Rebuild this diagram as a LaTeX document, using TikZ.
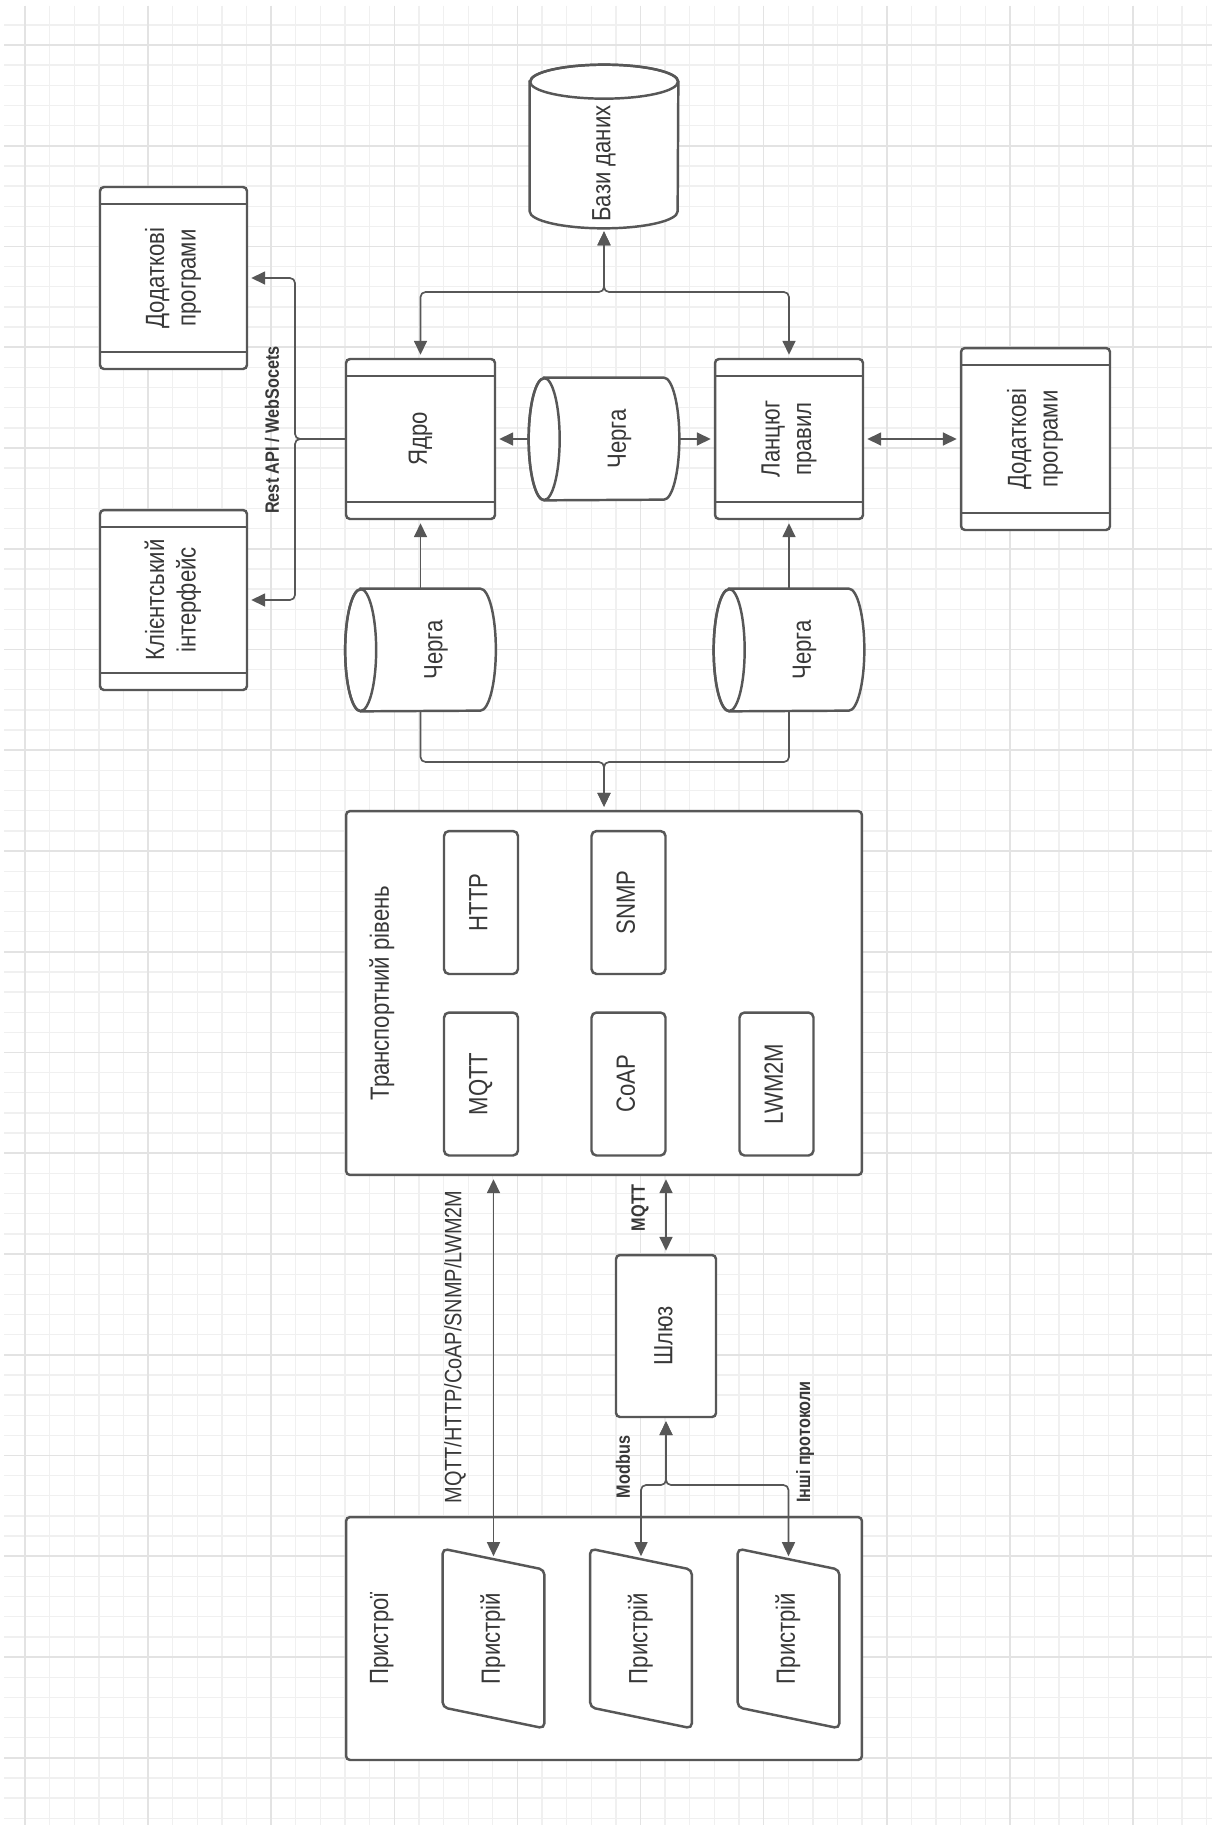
\documentclass[tikz,border=0pt]{standalone}
\usepackage{fontspec}
\setmainfont{Liberation Sans}[FakeStretch=0.84]
\usepackage{graphicx}
\usepackage{xcolor}
\usepackage{tikz}
\usetikzlibrary{arrows.meta, positioning, calc, backgrounds}
\definecolor{ink}      {HTML}{383838}
\definecolor{edge}     {HTML}{575757}
\definecolor{gridminor}{HTML}{F0F0F0}
\definecolor{gridmajor}{HTML}{E3E3E3}

% every label in the sketch reads bottom to top
\newcommand{\rotlbl}[1]{\rotatebox{90}{\begin{tabular}{@{}c@{}}#1\end{tabular}}}
% a drum keeps its text clear of the lid
\newcommand{\drumlbl}[1]{\hspace*{0.62cm}\rotlbl{#1}}

% drum lying on its side, lid on the left (radii 0.31cm x 1.22cm)
\newcommand{\hdrum}[1]{%
  \draw[edge, line width=1.4pt, fill=white]
    ([xshift=0.31cm]#1.north west) -- ([xshift=-0.31cm]#1.north east)
    arc[start angle=90, end angle=-90, x radius=0.31cm, y radius=1.22cm]
    -- ([xshift=0.31cm]#1.south west)
    arc[start angle=270, end angle=90, x radius=0.31cm, y radius=1.22cm] -- cycle;
  \draw[edge, line width=1.4pt] ([xshift=0.31cm]#1.west)
    ellipse[x radius=0.31cm, y radius=1.22cm];}

\begin{document}
\begin{tikzpicture}[
  % one unit is one pixel of the sketch, y running down the page
  x=0.02cm, y=-0.02cm,
  box/.style={
    draw=edge, line width=1.4pt, rounded corners=0.08cm, fill=white,
    text=ink, font=\fontsize{15}{18}\selectfont, inner sep=0pt
  },
  % box with a strip across the top and the bottom
  hbox/.style={box, path picture={
      \draw[edge, line width=1.4pt]
        ([yshift=-0.34cm]path picture bounding box.north west) --
        ([yshift=-0.34cm]path picture bounding box.north east)
        ([yshift=0.34cm]path picture bounding box.south west) --
        ([yshift=0.34cm]path picture bounding box.south east);}},
  drum/.style={text=ink, font=\fontsize{15}{18}\selectfont, inner sep=0pt,
               minimum width=3cm, minimum height=2.44cm},
  proto/.style={box, minimum width=1.48cm, minimum height=2.86cm, rounded corners=0.1cm},
  device/.style={text=ink, font=\fontsize{15}{18}\selectfont, inner sep=0pt,
                 minimum width=2.02cm, minimum height=3.58cm},
  flow/.style={draw=edge, line width=0.95pt, rounded corners=0.1cm, shorten >=0.06cm,
               -{Triangle[length=0.28cm,width=0.26cm]}},
  both/.style={flow, shorten <=0.06cm,
               {Triangle[length=0.28cm,width=0.26cm]}-{Triangle[length=0.28cm,width=0.26cm]}},
  tag/.style={text=ink, font=\fontsize{11}{13}\selectfont\bfseries, rotate=90, inner sep=0pt},
  caption/.style={text=ink, font=\fontsize{15}{18}\selectfont, rotate=90, inner sep=0pt}
]

\useasboundingbox (0,0) rectangle (1212,1825);

% --- grid paper ----------------------------------------------------------------
\begin{scope}[on background layer]
  \fill[white] (0,0) rectangle (1212,1825);
  \foreach \k in {0,...,48}
    \draw[gridminor, line width=0.75pt] ({25+\k*24.62},6) -- ({25+\k*24.62},1825);
  \foreach \k in {-1,...,88}
    \draw[gridminor, line width=0.75pt] (4,{45+\k*20.15}) -- (1212,{45+\k*20.15});
  \foreach \k in {0,5,...,45}
    \draw[gridmajor, line width=0.9pt] ({25+\k*24.62},6) -- ({25+\k*24.62},1825);
  \foreach \k in {0,5,...,85}
    \draw[gridmajor, line width=0.9pt] (4,{45+\k*20.15}) -- (1212,{45+\k*20.15});
\end{scope}

% --- platform ------------------------------------------------------------------
\node[hbox, minimum width=2.94cm, minimum height=3.64cm] (appL)  at (173.5,278) {\rotlbl{Додаткові\\програми}};
\node[hbox, minimum width=2.94cm, minimum height=3.6cm]  (ui)    at (173.5,600) {\rotlbl{Клієнтський\\інтерфейс}};
\node[hbox, minimum width=2.98cm, minimum height=3.2cm]  (core)  at (420.5,439) {\rotlbl{Ядро}};
\node[hbox, minimum width=2.96cm, minimum height=3.2cm]  (rules) at (789,439)   {\rotlbl{Ланцюг\\правил}};
\node[hbox, minimum width=2.98cm, minimum height=3.64cm] (appR)  at (1035.5,439) {\rotlbl{Додаткові\\програми}};

\node[drum] (qmid)   at (604,439)   {\drumlbl{Черга}};
\node[drum] (qcore)  at (420.5,650) {\drumlbl{Черга}};
\node[drum] (qrules) at (789,650)   {\drumlbl{Черга}};
\node[drum, minimum width=2.96cm, minimum height=2.58cm] (db) at (604,163.5) {\rotlbl{Бази даних}};

\begin{scope}[on background layer]
  \hdrum{qmid}
  \hdrum{qcore}
  \hdrum{qrules}
  % standing drum, lid on top
  \draw[edge, line width=1.4pt, fill=white]
    ([yshift=0.34cm]db.north west) -- ([yshift=0.34cm]db.south west)
    arc[start angle=180, end angle=360, x radius=1.48cm, y radius=0.34cm]
    -- ([yshift=0.34cm]db.north east)
    arc[start angle=0, end angle=180, x radius=1.48cm, y radius=0.34cm] -- cycle;
  \draw[edge, line width=1.4pt] ([yshift=0.34cm]db.north)
    ellipse[x radius=1.48cm, y radius=0.34cm];
\end{scope}

% --- transport layer -----------------------------------------------------------
\node[box, minimum width=10.32cm, minimum height=7.28cm] (trans) at (604,993) {};
\node[caption] (transLbl) at ([xshift=0.74cm]trans.west) {Транспортний рівень};
\node[proto] (http)  at (481,902.5)  {\rotlbl{HTTP}};
\node[proto] (snmp)  at (628.5,902.5) {\rotlbl{SNMP}};
\node[proto] (mqtt)  at (481,1084)   {\rotlbl{MQTT}};
\node[proto] (coap)  at (628.5,1084) {\rotlbl{CoAP}};
\node[proto] (lwm2m) at (776.5,1084) {\rotlbl{LWM2M}};

\node[box, minimum width=2cm, minimum height=3.24cm] (gw) at (666,1336) {\rotlbl{Шлюз}};

% --- devices -------------------------------------------------------------------
\node[box, minimum width=10.32cm, minimum height=4.86cm] (devs) at (604,1638.5) {};
\node[caption] (devsLbl) at ([xshift=0.74cm]devs.west) {Пристрої};
\node[device] (dev1) at (493.5,1638.5) {\rotlbl{Пристрій}};
\node[device] (dev2) at (641,1638.5)   {\rotlbl{Пристрій}};
\node[device] (dev3) at (788.5,1638.5) {\rotlbl{Пристрій}};
\foreach \d in {dev1,dev2,dev3}
  \draw[edge, line width=1.4pt, rounded corners=0.1cm]
    (\d.north west) -- ([yshift=-0.42cm]\d.north east) --
    (\d.south east) -- ([yshift=0.42cm]\d.south west) -- cycle;

% --- connectors ----------------------------------------------------------------
\coordinate (dbj)  at (604,292);
\coordinate (apij) at (295,439);
\coordinate (tj)   at (604,762);
\coordinate (gwj)  at (666,1485);

\draw[both] (core.north)  |- (dbj) -- (db.south);
\draw[both] (rules.north) |- (dbj) -- (db.south);
\draw[flow] (core.west) -- (apij) |- (appL.east);
\draw[flow] (core.west) -- (apij) |- (ui.east);
\draw[flow] (qmid) -- (core);
\draw[flow] (qmid) -- (rules);
\draw[both] (rules) -- (appR);
\draw[flow] (qcore) -- (core);
\draw[flow] (qrules) -- (rules);
\draw[flow] (qcore.south)  |- (tj) -- (trans.north);
\draw[flow] (qrules.south) |- (tj) -- (trans.north);

\draw[both] ([yshift=-0.21cm]dev1.north) -- (dev1.north |- trans.south);
\draw[both] (gw.north) -- (gw.north |- trans.south);
\draw[both] ([yshift=-0.21cm]dev2.north) |- (gwj) -- (gw.south);
\draw[both] ([yshift=-0.21cm]dev3.north) |- (gwj) -- (gw.south);

% --- protocol tags -------------------------------------------------------------
\node[tag] (restLbl)  at (272,430)  {Rest API / WebSocets};
\node[caption, font=\fontsize{13.5}{16}\selectfont] (directLbl) at (455,1347) {MQTT/HTTP/CoAP/SNMP/LWM2M};
\node[tag] (mqttLbl)  at (640,1208) {MQTT};
\node[tag] (modLbl)   at (623,1467) {Modbus};
\node[tag] (otherLbl) at (805,1442) {Інші протоколи};

\end{tikzpicture}
\end{document}
